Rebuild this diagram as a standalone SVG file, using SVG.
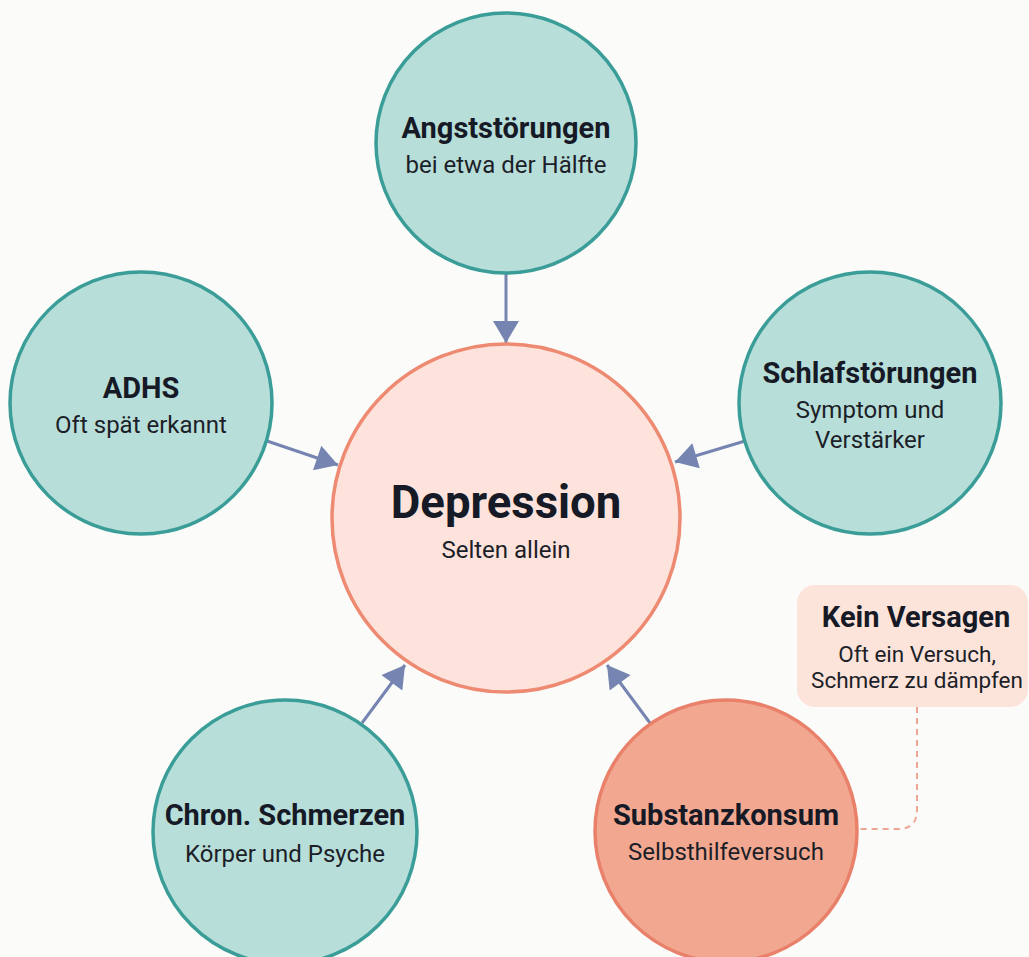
<svg xmlns="http://www.w3.org/2000/svg" width="1029" height="957" viewBox="0 0 1029 957">
<defs>
<style>
.side{fill:#B8DEDA;stroke:#3A9D98;stroke-width:3.5}
.center{fill:#FDE3DC;stroke:#EE8A72;stroke-width:3.5}
.subst{fill:#F2A890;stroke:#E8806A;stroke-width:3.5}
.t{font-family:Roboto,"Liberation Sans",sans-serif;font-weight:700;fill:#161a26;text-anchor:middle;font-size:29px}
.s{font-family:Roboto,"Liberation Sans",sans-serif;font-weight:400;fill:#1c1f28;text-anchor:middle;font-size:24px}
.conn{stroke:#7584B0;stroke-width:3;fill:none}
</style>
<marker id="ah" markerUnits="userSpaceOnUse" markerWidth="26" markerHeight="26" viewBox="0 0 24 26" refX="22" refY="13" orient="auto">
<path d="M0,0 L22,13 L0,26 Z" fill="#7584B0"/>
</marker>
</defs>
<rect width="1029" height="957" fill="#FBFBFA"/>
<g id="connectors">
<line class="conn" x1="506" y1="272" x2="506" y2="343" marker-end="url(#ah)"/>
<line class="conn" x1="267" y1="441" x2="338" y2="465" marker-end="url(#ah)"/>
<line class="conn" x1="745" y1="441" x2="675" y2="462" marker-end="url(#ah)"/>
<line class="conn" x1="362" y1="723" x2="405" y2="665" marker-end="url(#ah)"/>
<line class="conn" x1="650" y1="723" x2="607" y2="665" marker-end="url(#ah)"/>
<path d="M917,707 L917,810 Q917,829 898,829 L858,829" fill="none" stroke="#EFA594" stroke-width="2" stroke-dasharray="6,5"/>
</g>
<g id="depression">
<circle class="center" cx="506" cy="518" r="174"/>
<text class="t" x="506" y="518" style="font-size:45.5px">Depression</text>
<text class="s" x="506" y="558">Selten allein</text>
</g>
<g id="angst">
<circle class="side" cx="506" cy="143" r="130"/>
<text class="t" x="506" y="138">Angststörungen</text>
<text class="s" x="506" y="173">bei etwa der Hälfte</text>
</g>
<g id="adhs">
<circle class="side" cx="141" cy="403" r="131"/>
<text class="t" x="141" y="398">ADHS</text>
<text class="s" x="141" y="433">Oft spät erkannt</text>
</g>
<g id="schlaf">
<circle class="side" cx="870" cy="403" r="131"/>
<text class="t" x="870" y="383">Schlafstörungen</text>
<text class="s" x="870" y="418">Symptom und</text>
<text class="s" x="870" y="448">Verstärker</text>
</g>
<g id="chron">
<circle class="side" cx="285" cy="832" r="132"/>
<text class="t" x="285" y="825">Chron. Schmerzen</text>
<text class="s" x="285" y="862">Körper und Psyche</text>
</g>
<g id="substanz">
<circle class="subst" cx="726" cy="831" r="131"/>
<text class="t" x="726" y="825">Substanzkonsum</text>
<text class="s" x="726" y="860">Selbsthilfeversuch</text>
</g>
<g id="callout">
<rect x="797" y="585" width="231" height="122" rx="18" fill="#FCE4DB"/>
<text class="t" x="916" y="627">Kein Versagen</text>
<text class="s" x="917" y="662" style="font-size:22.5px">Oft ein Versuch,</text>
<text class="s" x="917" y="688" style="font-size:22.5px">Schmerz zu dämpfen</text>
</g>
</svg>
